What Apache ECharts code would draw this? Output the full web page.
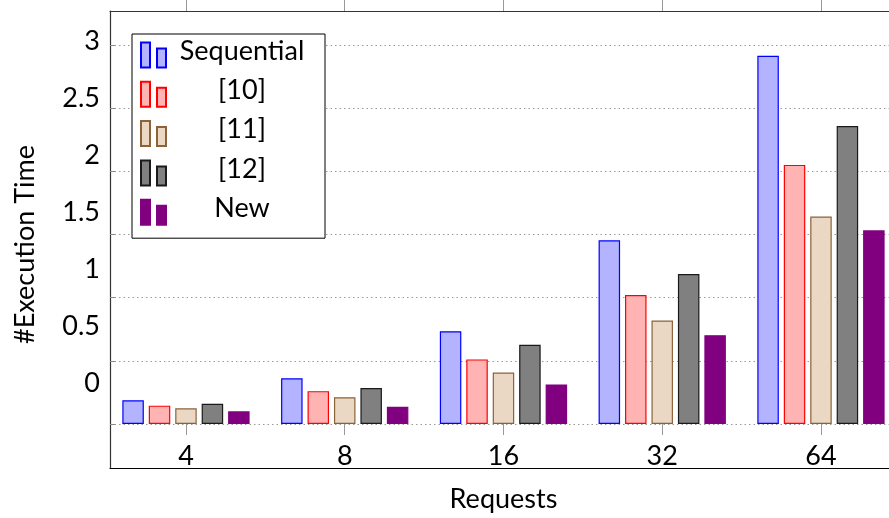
<!DOCTYPE html>
<html>
<head>
<meta charset="utf-8">
<script src="https://cdn.jsdelivr.net/npm/echarts@6/dist/echarts.min.js"></script>
<style>
  html, body { margin: 0; padding: 0; background: #fff; }
  #chart { width: 889px; height: 518px; }
</style>
</head>
<body>
<div id="chart"></div>
<script>
// Request counts on the x axis
const categories = ['4', '8', '16', '32', '64'];
const seriesNames = ['Sequential', '[10]', '[11]', '[12]', 'New'];

// Execution time per approach
const sequential = [0.187, 0.361, 0.734, 1.453, 2.913];
const ref10      = [0.145, 0.260, 0.511, 1.021, 2.050];
const ref11      = [0.124, 0.211, 0.408, 0.819, 1.642];
const ref12      = [0.160, 0.284, 0.626, 1.187, 2.358];
const proposed   = [0.100, 0.137, 0.313, 0.703, 1.532];

// Y tick values (grid lines and labels)
const yTicks = [0, 0.5, 1, 1.5, 2, 2.5, 3];

const fills   = ['#b3b3ff', '#ffb3b3', '#ead8c4', '#808080', '#800080'];
const borders = ['#0000ff', '#ff0000', '#8c6239', '#1a1a1a', '#800080'];
const values  = [sequential, ref10, ref11, ref12, proposed];

const FONT = 'Lato';
const Y_MIN = -0.3481, Y_MAX = 3.2674;

const chart = echarts.init(document.getElementById('chart'), null, { renderer: 'canvas' });

const series = seriesNames.map((name, i) => ({
  name,
  type: 'bar',
  xAxisIndex: 0,
  yAxisIndex: 0,
  data: values[i],
  barWidth: 21.5,
  barGap: '23%',
  itemStyle: { color: fills[i], borderColor: borders[i], borderWidth: 1.2 },
  emphasis: { disabled: true },
  animation: false
}));

chart.setOption({
  animation: false,
  textStyle: { fontFamily: FONT },
  grid: [
    // bars
    { left: 106.6, top: 11, width: 793.75, height: 457, containLabel: false, outerBoundsMode: 'none' },
    // frame, grid lines, y labels
    { left: 110, top: 11, width: 800, height: 457, containLabel: false, outerBoundsMode: 'none' }
  ],
  legend: {
    orient: 'vertical',
    left: 132,
    top: 34,
    padding: [3.5, 12, 8.5, 8],
    itemWidth: 25,
    itemHeight: 25,
    itemGap: 4.3,
    itemTextGap: 5,
    backgroundColor: '#fff',
    borderColor: '#000',
    borderWidth: 1,
    borderRadius: 0,
    icon: 'path://M0,0h9v25h-9z M16,6h9v19h-9z',
    selectedMode: false,
    formatter: name => '{t|' + name + '}',
    textStyle: {
      rich: {
        t: { width: 142, align: 'center', fontSize: 27, lineHeight: 22, fontFamily: FONT, color: '#000', padding: [0, 0, 8, 0] }
      }
    },
    data: seriesNames
  },
  xAxis: [
    {
      type: 'category', gridIndex: 0, position: 'bottom', data: categories,
      axisLine: { show: false },
      axisTick: { show: true, alignWithLabel: true, inside: false, length: 11, lineStyle: { color: '#999', width: 1 } },
      axisLabel: { inside: true, margin: -2, fontSize: 27, fontFamily: FONT, color: '#000' },
      splitLine: { show: false },
      name: 'Requests', nameLocation: 'middle', nameGap: 18,
      nameTextStyle: { fontSize: 27, fontFamily: FONT, color: '#000' }
    },
    {
      type: 'category', gridIndex: 0, position: 'top', data: categories,
      axisLine: { show: false },
      axisTick: { show: true, alignWithLabel: true, inside: false, length: 11, lineStyle: { color: '#999', width: 1 } },
      axisLabel: { show: false },
      splitLine: { show: false }
    },
    {
      type: 'value', gridIndex: 1, position: 'bottom', min: 0, max: 1,
      axisLine: { show: true, onZero: false, lineStyle: { color: '#000', width: 1.2 } },
      axisTick: { show: false }, axisLabel: { show: false }, splitLine: { show: false }
    },
    {
      type: 'value', gridIndex: 1, position: 'top', min: 0, max: 1,
      axisLine: { show: true, onZero: false, lineStyle: { color: '#333', width: 1.2 } },
      axisTick: { show: false }, axisLabel: { show: false }, splitLine: { show: false }
    }
  ],
  yAxis: [
    {
      type: 'value', gridIndex: 0, min: Y_MIN, max: Y_MAX,
      axisLine: { show: false }, axisTick: { show: false },
      axisLabel: { show: false }, splitLine: { show: false }
    },
    {
      type: 'value', gridIndex: 1, min: Y_MIN, max: Y_MAX, position: 'left',
      axisLine: { show: true, onZero: false, lineStyle: { color: '#333', width: 1.2 } },
      axisTick: { show: true, inside: true, length: 5, customValues: yTicks, lineStyle: { color: '#888' } },
      axisLabel: { show: false },
      splitLine: { show: true, lineStyle: { color: '#999', width: 1, type: [1.5, 3] } },
      name: '#Execution Time', nameLocation: 'middle', nameGap: 71, nameRotate: 90,
      nameTextStyle: { fontSize: 27, fontFamily: FONT, color: '#000', padding: [0, 10, 0, 0] }
    },
    {
      type: 'value', gridIndex: 1, min: -0.7456, max: 3.263, position: 'left',
      axisLine: { show: false }, axisTick: { show: false },
      axisLabel: { show: true, customValues: yTicks, margin: 10, fontSize: 27, fontFamily: FONT, color: '#000' },
      splitLine: { show: false }
    }
  ],
  series
});
</script>
</body>
</html>
